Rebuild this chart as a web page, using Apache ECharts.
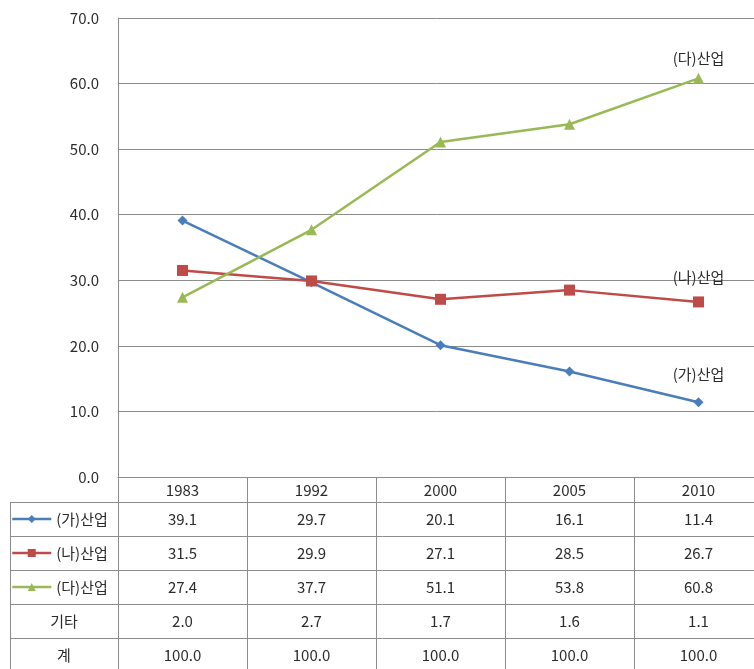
<!DOCTYPE html>
<html>
<head>
<meta charset="utf-8">
<script src="https://cdn.jsdelivr.net/npm/echarts@6/dist/echarts.min.js"></script>
<style>
  html, body { margin: 0; padding: 0; background: #ffffff; }
  #chart { width: 754px; height: 669px; }
</style>
</head>
<body>
<div id="chart"></div>
<script>
// Industry shares by year (%)
const categories = ['1983', '1992', '2000', '2005', '2010'];
const seriesNames = ['(가)산업', '(나)산업', '(다)산업'];
const gaValues = [39.1, 29.7, 20.1, 16.1, 11.4];
const naValues = [31.5, 29.9, 27.1, 28.5, 26.7];
const daValues = [27.4, 37.7, 51.1, 53.8, 60.8];
const otherName = '기타';
const otherValues = [2.0, 2.7, 1.7, 1.6, 1.1];
const totalName = '계';
const totalValues = [100.0, 100.0, 100.0, 100.0, 100.0];
const yMin = 0, yMax = 70, yStep = 10;

const FONT = "'Noto Sans CJK KR', 'Noto Sans', sans-serif";
const FS = 15;
const TEXT = '#2b2b2b';
const LINE = '#8c8c8c';
const colors = ['#4a7ebb', '#be4b48', '#98b954'];
const symbols = ['diamond', 'rect', 'triangle'];
const symbolSizes = [10, 11, 11];
const labelDist = [15, 12, 7];
const ROW_H = 34;       // table row height
const HEAD_H = 25;      // header (year) row height
const TABLE_LEFT = 10;

const seriesValues = [gaValues, naValues, daValues];
const lastIdx = categories.length - 1;

const chart = echarts.init(document.getElementById('chart'), null, { renderer: 'canvas' });

const legends = seriesNames.map((name, i) => ({
  data: [name],
  orient: 'horizontal',
  left: 11,
  top: 0,
  padding: 0,
  itemWidth: 39,
  itemHeight: 10,
  itemGap: 0,
  selectedMode: false,
  itemStyle: { borderWidth: 0 },
  lineStyle: { width: 2.5 },
  textStyle: { color: TEXT, fontSize: FS, fontFamily: FONT, lineHeight: 18 }
}));

const option = {
  backgroundColor: '#ffffff',
  animation: false,
  textStyle: { fontFamily: FONT },
  legend: legends,
  grid: { left: 118, top: 18, width: 645, height: 459, containLabel: false, outerBoundsMode: 'none' },
  xAxis: {
    type: 'category',
    data: categories,
    boundaryGap: true,
    axisLine: { show: true, lineStyle: { color: LINE, width: 1 } },
    axisTick: { show: false },
    axisLabel: { margin: 6, color: TEXT, fontSize: FS, fontFamily: FONT },
    splitLine: { show: false }
  },
  yAxis: {
    type: 'value',
    min: yMin, max: yMax, interval: yStep,
    axisLine: { show: true, lineStyle: { color: LINE, width: 1 } },
    axisTick: { show: false },
    axisLabel: {
      margin: 19, color: TEXT, fontSize: FS, fontFamily: FONT,
      formatter: v => v.toFixed(1)
    },
    splitLine: { show: true, lineStyle: { color: LINE, width: 1 } }
  },
  series: seriesNames.map((name, i) => ({
    name: name,
    type: 'line',
    data: seriesValues[i],
    symbol: symbols[i],
    symbolSize: symbolSizes[i],
    showAllSymbol: true,
    lineStyle: { color: colors[i], width: 2.5 },
    itemStyle: { color: colors[i] },
    label: {
      show: true,
      position: 'top',
      distance: labelDist[i],
      color: TEXT,
      fontSize: FS,
      fontFamily: FONT,
      formatter: p => (p.dataIndex === lastIdx ? p.seriesName : '')
    }
  }))
};

chart.setOption(option);

// Data table under the x axis, laid out from the axis scales
function buildTable() {
  const xs = categories.map((c, i) => chart.convertToPixel({ xAxisIndex: 0 }, i));
  const baseY = chart.convertToPixel({ yAxisIndex: 0 }, yMin);
  const band = xs.length > 1 ? xs[1] - xs[0] : 100;
  const leftX = xs[0] - band / 2;
  const rightX = xs[xs.length - 1] + band / 2;
  const rowTop = baseY + HEAD_H;
  const rowCount = 5;
  const bottomY = rowTop + ROW_H * rowCount;
  const els = [];
  const ls = { stroke: LINE, lineWidth: 1 };

  // horizontal rules
  for (let r = 0; r <= rowCount; r++) {
    const y = Math.round(rowTop + r * ROW_H) + 0.5;
    els.push({ type: 'line', shape: { x1: TABLE_LEFT, y1: y, x2: rightX, y2: y }, style: ls, silent: true });
  }
  // outer left edge of the name column
  els.push({ type: 'line', shape: { x1: TABLE_LEFT + 0.5, y1: rowTop, x2: TABLE_LEFT + 0.5, y2: bottomY }, style: ls, silent: true });
  // y axis continues down through the table
  els.push({ type: 'line', shape: { x1: Math.round(leftX) + 0.5, y1: baseY, x2: Math.round(leftX) + 0.5, y2: bottomY }, style: ls, silent: true });
  // column separators
  for (let i = 0; i < xs.length; i++) {
    const x = Math.round(xs[i] + band / 2) + 0.5;
    els.push({ type: 'line', shape: { x1: x, y1: baseY, x2: x, y2: bottomY }, style: ls, silent: true });
  }

  const rows = [gaValues, naValues, daValues, otherValues, totalValues];
  rows.forEach((vals, r) => {
    const cy = rowTop + r * ROW_H + ROW_H / 2;
    vals.forEach((v, i) => {
      els.push({
        type: 'text', x: xs[i], y: cy, silent: true,
        style: { text: v.toFixed(1), fill: TEXT, font: FS + 'px ' + FONT, align: 'center', verticalAlign: 'middle' }
      });
    });
  });
  // names of the two rows without a legend icon
  [otherName, totalName].forEach((name, k) => {
    const cy = rowTop + (3 + k) * ROW_H + ROW_H / 2;
    els.push({
      type: 'text', x: (TABLE_LEFT + leftX) / 2, y: cy, silent: true,
      style: { text: name, fill: TEXT, font: FS + 'px ' + FONT, align: 'center', verticalAlign: 'middle' }
    });
  });

  const legendPos = seriesNames.map((n, i) => ({ top: rowTop + i * ROW_H + ROW_H / 2 - 9 }));
  chart.setOption({ legend: legendPos, graphic: { elements: els } });
}

buildTable();
</script>
</body>
</html>
